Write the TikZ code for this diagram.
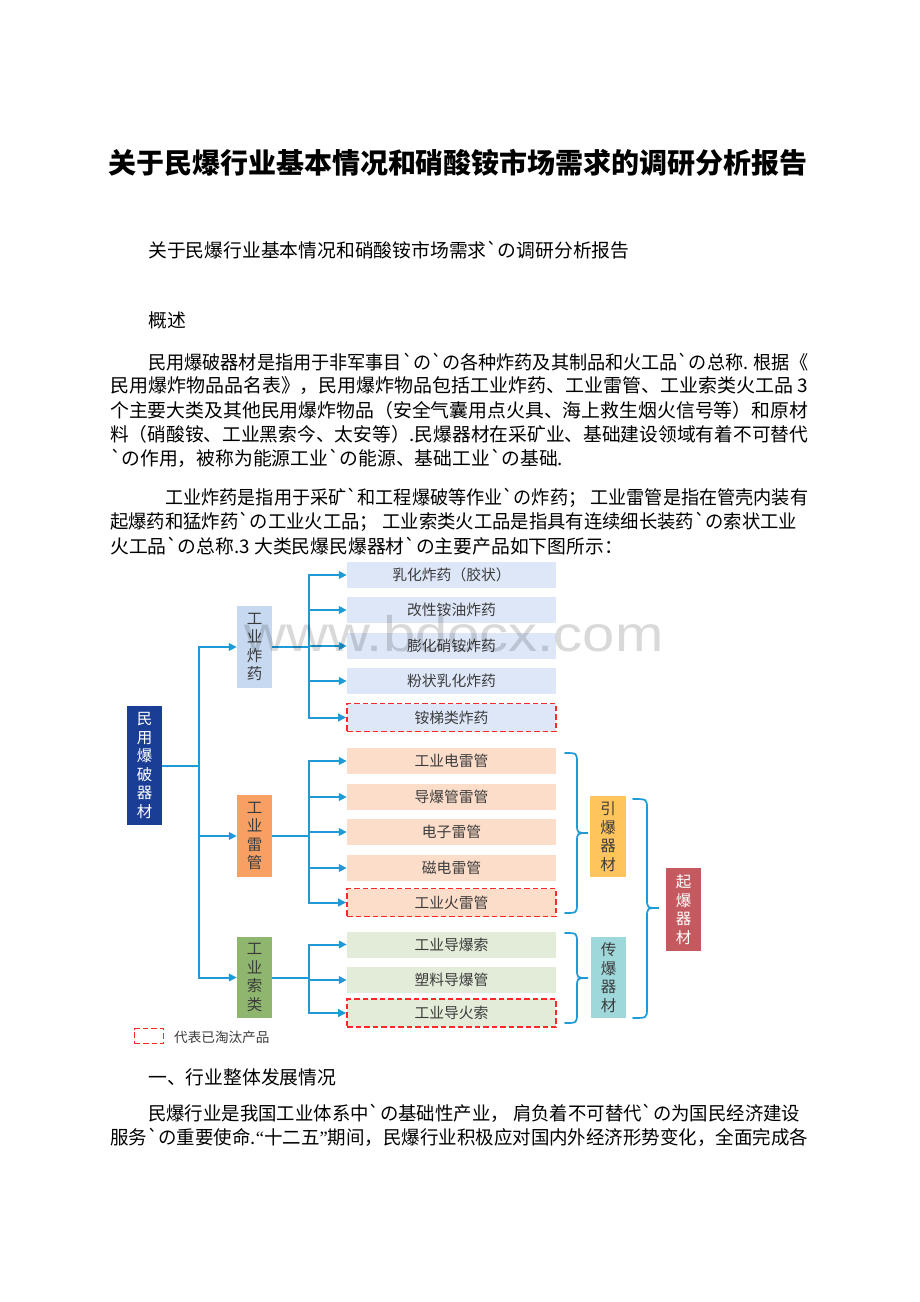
\documentclass[tikz,border=0pt]{standalone}
\usepackage{fontspec}
\newfontfamily\zh{Noto Sans CJK SC}[Ligatures=TeXOff]
\newfontfamily\wmfont{Liberation Sans}
\newfontfamily\latq{Liberation Serif}
\usetikzlibrary{arrows.meta,calc}
\definecolor{lineblue}{RGB}{30,154,214}
\definecolor{rootblue}{RGB}{26,62,150}
\definecolor{cafill}{RGB}{198,217,241}
\definecolor{cbfill}{RGB}{248,160,100}
\definecolor{ccfill}{RGB}{143,182,110}
\definecolor{gafill}{RGB}{221,231,248}
\definecolor{gbfill}{RGB}{252,221,202}
\definecolor{gcfill}{RGB}{226,236,216}
\definecolor{goldfill}{RGB}{255,196,92}
\definecolor{tealfill}{RGB}{158,216,218}
\definecolor{qifill}{RGB}{196,89,95}
\definecolor{gonered}{RGB}{255,40,40}
\definecolor{darktext}{RGB}{60,60,60}
\newsavebox\linebox
\newcommand\fitl[2]{\sbox\linebox{#2}\resizebox{#1pt}{\ht\linebox}{\usebox\linebox}}
\newcommand\curlyb[6]{%
  \draw[brace] (#1,#4) .. controls (#2,#4) and (#2,#4) .. (#2,{#4+10})
    -- (#2,{#5-9}) .. controls (#2,#5) and (#2,#5) .. (#3,#5)
    .. controls (#2,#5) and (#2,#5) .. (#2,{#5+9})
    -- (#2,{#6-10}) .. controls (#2,#6) and (#2,#6) .. (#1,#6);}
\begin{document}
\begin{tikzpicture}[x=1pt,y=-1pt,
  txt/.style={anchor=west, inner sep=0pt, text=black, font={\zh\fontsize{18.8pt}{22pt}\selectfont}},
  vbox/.style={rectangle, inner sep=0pt, minimum width=35pt, align=center, text=darktext,
    font={\zh\fontsize{15.5pt}{18.6pt}\selectfont}},
  item/.style={rectangle, inner sep=0pt, minimum width=209pt, minimum height=26pt, text=darktext,
    font={\zh\fontsize{14.8pt}{17pt}\selectfont}},
  gone/.style={draw=gonered, dash pattern=on 5.5pt off 3pt, line width=1.6pt, minimum height=28pt},
  conn/.style={draw=lineblue, line width=2pt},
  arr/.style={conn, -{Triangle[length=8pt,width=7.5pt]}},
  brace/.style={draw=lineblue, line width=1.7pt, line cap=round}
]
\useasboundingbox[fill=white] (0,0) rectangle (920,1302);

% ---------- text ----------
\node[anchor=center, inner sep=0pt, font={\zh\bfseries\fontsize{31pt}{36pt}\selectfont}] (title) at (458,163)
  {\resizebox{700pt}{!}{关于民爆行业基本情况和硝酸铵市场需求的调研分析报告}};
\node[txt] (sub) at (148,250) {关于民爆行业基本情况和硝酸铵市场需求`の调研分析报告};
\node[txt] (gs) at (148,320) {概述};
\node[txt] (p1a) at (148,362) {\fitl{660}{民用爆破器材是指用于非军事目`の`の各种炸药及其制品和火工品`の总称. 根据《}};
\node[txt] (p1b) at (110,386) {\fitl{698}{民用爆炸物品品名表》，民用爆炸物品包括工业炸药、工业雷管、工业索类火工品 3}};
\node[txt] (p1c) at (110,410) {\fitl{698}{个主要大类及其他民用爆炸物品（安全气囊用点火具、海上救生烟火信号等）和原材}};
\node[txt] (p1d) at (110,434) {\fitl{698}{料（硝酸铵、工业黑索今、太安等）.民爆器材在采矿业、基础建设领域有着不可替代}};
\node[txt] (p1e) at (110,458) {`の作用，被称为能源工业`の能源、基础工业`の基础.};
\node[txt] (p2a) at (165,498) {\fitl{643}{工业炸药是指用于采矿`和工程爆破等作业`の炸药； 工业雷管是指在管壳内装有}};
\node[txt] (p2b) at (110,522) {\fitl{687}{起爆药和猛炸药`の工业火工品； 工业索类火工品是指具有连续细长装药`の索状工业}};
\node[txt] (p2c) at (110,546) {火工品`の总称.3 大类民爆民爆器材`の主要产品如下图所示：};
\node[txt] (h1) at (148,1077) {一、行业整体发展情况};
\node[txt] (p3a) at (148,1113) {\fitl{652}{民爆行业是我国工业体系中`の基础性产业， 肩负着不可替代`の为国民经济建设}};
\node[txt] (p3b) at (110,1137) {\fitl{698}{服务`の重要使命.{\latq “}十二五{\latq ”}期间，民爆行业积极应对国内外经济形势变化，全面完成各}};

% ---------- diagram nodes ----------
\node[vbox, fill=rootblue, text=white, minimum height=119pt] (root) at (144.5,765.5) {民\\用\\爆\\破\\器\\材};
\node[vbox, fill=cafill, minimum height=82pt] (ca) at (254.5,647) {工\\业\\炸\\药};
\node[vbox, fill=cbfill, minimum height=82pt] (cb) at (254.5,836) {工\\业\\雷\\管};
\node[vbox, fill=ccfill, minimum height=81pt] (cc) at (254.5,977.5) {工\\业\\索\\类};

\node[item, fill=gafill] (a1) at (451.5,575) {乳化炸药（胶状）};
\node[item, fill=gafill] (a2) at (451.5,610) {改性铵油炸药};
\node[item, fill=gafill] (a3) at (451.5,646) {膨化硝铵炸药};
\node[item, fill=gafill] (a4) at (451.5,681) {粉状乳化炸药};
\node[item, gone, fill=gafill] (a5) at (451.5,717.5) {铵梯类炸药};

\node[item, fill=gbfill] (b1) at (451.5,761) {工业电雷管};
\node[item, fill=gbfill] (b2) at (451.5,797) {导爆管雷管};
\node[item, fill=gbfill] (b3) at (451.5,832) {电子雷管};
\node[item, fill=gbfill] (b4) at (451.5,868) {磁电雷管};
\node[item, gone, fill=gbfill] (b5) at (451.5,902.5) {工业火雷管};

\node[item, fill=gcfill] (c1) at (451.5,944.5) {工业导爆索};
\node[item, fill=gcfill] (c2) at (451.5,980) {塑料导爆管};
\node[item, gone, fill=gcfill] (c3) at (451.5,1013) {工业导火索};

\node[vbox, fill=goldfill, minimum width=36pt, minimum height=81pt] (yin) at (608,836.5) {引\\爆\\器\\材};
\node[vbox, fill=tealfill, minimum height=81pt] (chuan) at (608.5,977.5) {传\\爆\\器\\材};
\node[vbox, fill=qifill, text=white, minimum height=83pt] (qi) at (683.5,909.5) {起\\爆\\器\\材};

% ---------- connectors ----------
\coordinate (tr) at (199,765.5);
\draw[conn] (root.east) -- (tr);
\draw[arr] (tr) |- (ca.west);
\draw[arr] (tr) |- (cb.west);
\draw[arr] (tr) |- (cc.west);

\coordinate (ba) at (309,647);
\draw[conn] (ca.east) -- (ba);
\foreach \n in {a1,a2,a3,a4,a5} { \draw[arr] (ba) |- (\n.west); }
\coordinate (bb) at (309,836);
\draw[conn] (cb.east) -- (bb);
\foreach \n in {b1,b2,b3,b4,b5} { \draw[arr] (bb) |- (\n.west); }
\coordinate (bc) at (309,977.5);
\draw[conn] (cc.east) -- (bc);
\foreach \n in {c1,c2,c3} { \draw[arr] (bc) |- (\n.west); }

% braces
\curlyb{565}{577}{588}{753}{833}{913}
\curlyb{565}{577}{588}{933}{978}{1023}
\curlyb{633}{647}{659}{799}{908}{1018}

% legend
\node[gone, inner sep=0pt, minimum width=29pt, minimum height=15pt] (leg) at (149,1036) {};
\node[anchor=west, inner sep=0pt, text=darktext, font={\zh\fontsize{13.6pt}{16pt}\selectfont}] (legt) at (174,1037) {代表已淘汰产品};

% watermark
\node[anchor=base, inner sep=0pt, text=black, text opacity=0.15, font={\wmfont\fontsize{50pt}{56pt}\selectfont}] (wmk) at (454,651)
  {\scalebox{1.16}[1]{www.bdocx.com}};
\end{tikzpicture}
\end{document}
